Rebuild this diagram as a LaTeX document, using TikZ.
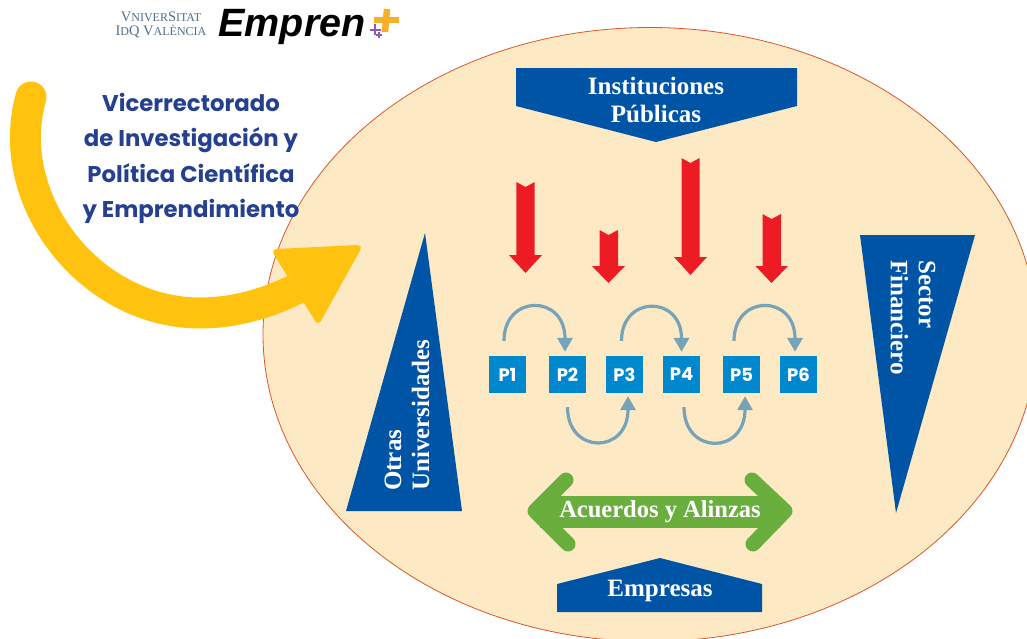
\documentclass[tikz,border=0pt]{standalone}
\usepackage{fontspec}
\setmainfont{Liberation Serif}
\newfontfamily\headfont{Poppins}
\newfontfamily\logofont{Liberation Sans}
\usepackage{xcolor}
\usetikzlibrary{positioning}
\usetikzlibrary{arrows.meta}
\definecolor{sandfill}{HTML}{FDE9C3}
\definecolor{rimred}{HTML}{D9572B}
\definecolor{deepblue}{HTML}{0054A6}
\definecolor{boxblue}{HTML}{0088CF}
\definecolor{flowgrey}{HTML}{76A3B8}
\definecolor{amber}{HTML}{FFC20E}
\definecolor{leafgreen}{HTML}{6AAF3D}
\definecolor{inkblue}{HTML}{25408F}
\definecolor{alarmred}{HTML}{ED1C24}
\definecolor{logoblue}{HTML}{4F6F8C}
\definecolor{plusgold}{HTML}{F9AE28}
\definecolor{pluspurple}{HTML}{8A5BB5}

\begin{document}
\begin{tikzpicture}[x=1pt,y=-1pt,node distance=57pt,on grid,
   pbox/.style={fill=boxblue,text=white,minimum size=37pt,inner sep=0pt,font=\headfont\bfseries\fontsize{18}{18}\selectfont},
   flow/.style={draw=flowgrey,line width=3.2pt,-{Triangle[length=14pt,width=15pt]}},
   label/.style={text=white,inner sep=0pt,align=center,font=\bfseries\fontsize{25}{28}\selectfont},
   redblock/.style={fill=alarmred},
   blueblock/.style={fill=deepblue}]
   \useasboundingbox (0,0) rectangle (1027,638);
   \begin{scope}
   \clip (0,0) rectangle (1027,638);
   \draw[fill=sandfill,draw=rimred,line width=0.8pt] (650,334.5) ellipse [x radius=387,y radius=307];
   \end{scope}
   % logo
   \node[text=logoblue,inner sep=0pt,align=center,font=\fontsize{14.5}{14.5}\selectfont] (uv) at (161,25) {V{\fontsize{12}{14.5}\selectfont NIVER}S{\fontsize{12}{14.5}\selectfont ITAT}\\I{\fontsize{12}{14.5}\selectfont D}Q V{\fontsize{12}{14.5}\selectfont ALÈNCIA}};
   \node[text=black,inner sep=0pt,font=\logofont\bfseries\itshape\fontsize{39.5}{39.5}\selectfont] (empren) at (292,27) {Empren};
   \draw[plusgold,line width=6.5pt] (387,9) -- (385,32);
   \draw[plusgold,line width=6.5pt] (374,20) -- (399,20);
   \draw[pluspurple,line width=2pt] (375,24) -- (375,35);
   \draw[pluspurple,line width=2pt] (370,30) -- (381,30);
   \draw[pluspurple,line width=1.5pt] (379,32) -- (379,38);
   \draw[pluspurple,line width=1.5pt] (376,35) -- (382,35);
   % amber sweep
   \draw[amber,line width=31pt,line cap=round] (31,97) .. controls (2,200) and (90,313) .. (200,313) .. controls (240,313) and (280,300) .. (318,277);
   \fill[amber,draw=amber,line width=6pt,line join=round] (276,252) -- (358,248) -- (318,320) -- cycle;
   \node[text=inkblue,inner sep=0pt,align=center,font=\headfont\bfseries\fontsize{22.8}{35.5}\selectfont] (vice) at (191,158.5) {Vicerrectorado\\de Investigación y\\Política Científica\\y Emprendimiento};
   % blocks
   \fill[blueblock] (516,68) -- (797,68) -- (797,106) -- (656,142) -- (516,106) -- cycle;
   \node[label] (inst) at (656,100) {Instituciones\\Públicas};
   \fill[blueblock] (557,584) -- (660,558) -- (762,584) -- (762,612) -- (557,612) -- cycle;
   \node[label] (empr) at (660,591) {Empresas};
   \fill[blueblock] (425,233) -- (462,511) -- (346,511) -- cycle;
   \node[label,rotate=90,align=left,anchor=west] (otras) at (407,491) {Otras\\Universidades};
   \fill[blueblock] (860,235) -- (975,235) -- (896,513) -- cycle;
   \node[label,rotate=-90,align=left,anchor=west] (sector) at (913,260) {Sector\\Financiero};
   % red arrows
   \fill[redblock] (525.5,187) -- (534.7,182) -- (534.7,255) -- (542,255) -- (525.5,273) -- (509,255) -- (516.3,255) -- (516.3,182) -- cycle;
   \fill[redblock] (608.5,235) -- (618,230) -- (618,266) -- (625,266) -- (608.5,283) -- (592,266) -- (599.5,266) -- (599.5,230) -- cycle;
   \fill[redblock] (690.5,163) -- (699.5,158) -- (699.5,257) -- (707,257) -- (690.5,275) -- (674,257) -- (681.5,257) -- (681.5,158) -- cycle;
   \fill[redblock] (771.5,219) -- (781,214) -- (781,266) -- (788,266) -- (771.5,283) -- (755.5,266) -- (762.5,266) -- (762.5,214) -- cycle;
   % process steps
   \node[pbox] (p1) at (507.5,374.5) {P1};
   \node[pbox] (p2) [right=60pt of p1] {P2};
   \node[pbox] (p3) [right=of p2] {P3};
   \node[pbox] (p4) [right=of p3] {P4};
   \node[pbox] (p5) [right=60pt of p4] {P5};
   \node[pbox] (p6) [right=of p5] {P6};
   \draw[flow,shorten <=15pt,shorten >=4pt] ([xshift=-3.5pt]p1.north) to[out=90,in=90,looseness=2.6] ([xshift=-2.5pt]p2.north);
   \draw[flow,shorten <=15pt,shorten >=4pt] ([xshift=-3pt]p3.north) to[out=90,in=90,looseness=2.6] (p4.north);
   \draw[flow,shorten <=15pt,shorten >=4pt] ([xshift=-7.5pt]p5.north) to[out=90,in=90,looseness=2.6] ([xshift=-3.5pt]p6.north);
   \draw[flow,shorten <=14pt,shorten >=3pt] (p2.south) to[out=-90,in=-90,looseness=2.6] ([xshift=3.5pt]p3.south);
   \draw[flow,shorten <=14pt,shorten >=3pt] ([xshift=2.5pt]p4.south) to[out=-90,in=-90,looseness=2.6] ([xshift=3.5pt]p5.south);
   % agreements
   \node[fill=leafgreen,text=white,inner sep=0pt,minimum width=240pt,minimum height=32pt,font=\bfseries\fontsize{24.5}{24.5}\selectfont] (acuerdos) at (660,511.5) {\raisebox{-2pt}{Acuerdos y Alinzas}};
   \draw[leafgreen,line width=15pt,line cap=round,line join=round] (566,480) -- (535,511) -- (568,544);
   \draw[leafgreen,line width=15pt,line cap=round,line join=round] (752,480) -- (785,511) -- (753,544);
 \end{tikzpicture}
\end{document}
